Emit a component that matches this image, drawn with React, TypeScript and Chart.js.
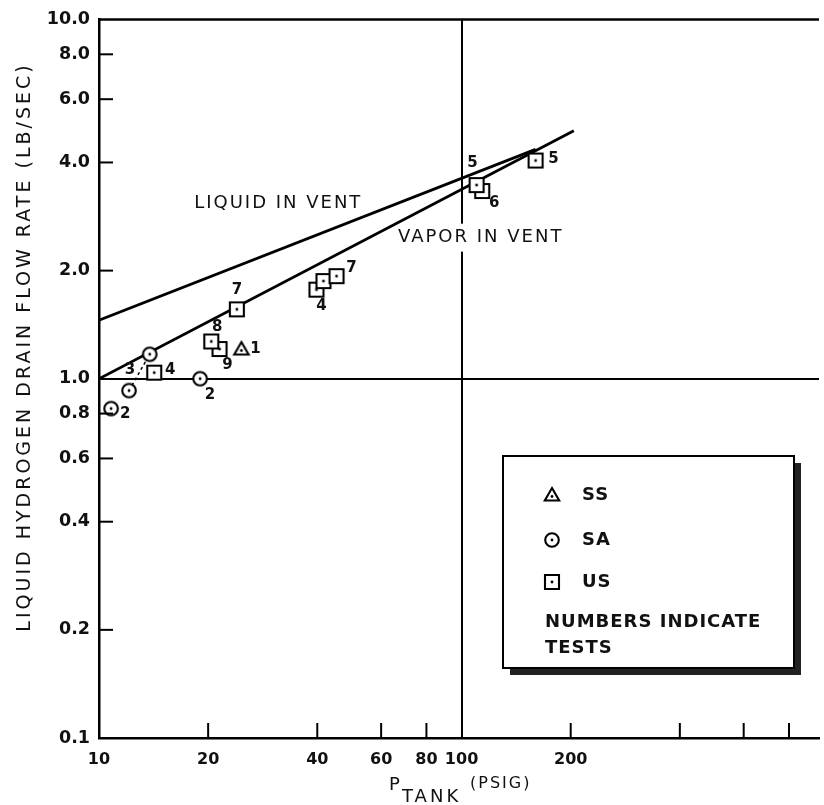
import React, { useEffect, useRef } from 'react';
import { Chart, registerables } from 'chart.js';

Chart.register(...registerables);

// ---- axis ticks ----
const xTickValues = [10, 20, 40, 60, 80, 100, 200, 400, 600, 800];
const xTickLabels = ['10', '20', '40', '60', '80', '100', '200', '', '', ''];
const yTickValues = [0.1, 0.2, 0.4, 0.6, 0.8, 1, 2, 4, 6, 8, 10];
const yTickLabels = ['0.1', '0.2', '0.4', '0.6', '0.8', '1.0', '2.0', '4.0', '6.0', '8.0', '10.0'];

// ---- data (P tank, psig ; drain flow rate, lb/sec) ----
const ssPressure = [24.7];
const ssFlow = [1.21];
const ssTests = ['1'];

const saPressure = [10.8, 12.1, 13.8, 19.0];
const saFlow = [0.826, 0.927, 1.17, 1.0];
const saTests = ['2', '3', '', '2'];

const usPressure = [14.2, 24.0, 21.5, 20.4, 39.8, 41.6, 45.2, 114, 110, 160];
const usFlow = [1.04, 1.56, 1.21, 1.27, 1.77, 1.87, 1.93, 3.33, 3.46, 4.05];
const usTests = ['4', '7', '9', '8', '4', '', '7', '6', '5', '5'];

const test3Pressure = [12.1, 13.8];
const test3Flow = [0.927, 1.17];

const liquidPressure = [10, 160];
const liquidFlow = [1.456, 4.35];
const vaporPressure = [10, 204];
const vaporFlow = [1.0, 4.9];

const seriesNames = ['SS', 'SA', 'US'];
const lineNames = ['LIQUID IN VENT', 'VAPOR IN VENT'];
const lineLabelAnchors = [
  [18.3, 3.08],
  [66.8, 2.47],
];
const noteLines = ['NUMBERS INDICATE', 'TESTS'];
const yTitle = 'LIQUID HYDROGEN DRAIN FLOW RATE (LB/SEC)';

// ---- label offsets (pixels, relative to marker centre) ----
const ssLabelOffsets: (number[] | null)[] = [[14, 0]];
const saLabelOffsets: (number[] | null)[] = [[14, 6], [1, -20], null, [10, 16]];
const usLabelOffsets: (number[] | null)[] = [
  [16, -3], [0, -19], [8, 16], [6, -14], [5, 16], null, [15, -8], [12, 12], [-4, -22], [18, -1],
];

function makeMarker(kind: string): HTMLCanvasElement {
  const c = document.createElement('canvas');
  c.width = 20;
  c.height = 20;
  const g = c.getContext('2d')!;
  g.fillStyle = '#fff';
  g.strokeStyle = '#000';
  g.lineWidth = 2.1;
  let cy = 10;
  if (kind === 'square') {
    g.beginPath();
    g.rect(3, 3, 14, 14);
    g.fill();
    g.stroke();
  } else if (kind === 'circle') {
    g.beginPath();
    g.arc(10, 10, 6.8, 0, Math.PI * 2);
    g.fill();
    g.stroke();
  } else {
    g.beginPath();
    g.moveTo(10, 3);
    g.lineTo(17.2, 15.5);
    g.lineTo(2.8, 15.5);
    g.closePath();
    g.fill();
    g.stroke();
    cy = 11.5;
  }
  g.fillStyle = '#000';
  g.beginPath();
  g.arc(10, cy, 1.4, 0, Math.PI * 2);
  g.fill();
  return c;
}

export default function App() {
  const ref = useRef<HTMLCanvasElement>(null);

  useEffect(() => {
    const canvas = ref.current!;
    const triangle = makeMarker('triangle');
    const circle = makeMarker('circle');
    const square = makeMarker('square');

    const pts = (xs: number[], ys: number[]) => xs.map((x, i) => ({ x, y: ys[i] }));

    const labelSets = [
      { index: 0, tests: ssTests, offsets: ssLabelOffsets },
      { index: 1, tests: saTests, offsets: saLabelOffsets },
      { index: 2, tests: usTests, offsets: usLabelOffsets },
    ];

    const decor = {
      id: 'decor',
      afterDatasetsDraw(chart: any) {
        const { ctx, chartArea: a, scales } = chart;
        const x = scales.x;
        const y = scales.y;
        ctx.save();
        ctx.strokeStyle = '#000';
        ctx.lineWidth = 2;
        // inward tick marks
        x.ticks.forEach((t: any) => {
          if (t.value === 10 || t.value === 100) return;
          const px = x.getPixelForValue(t.value);
          ctx.beginPath();
          ctx.moveTo(px, a.bottom);
          ctx.lineTo(px, a.bottom - 15);
          ctx.stroke();
        });
        y.ticks.forEach((t: any) => {
          if (t.value === 0.1 || t.value === 1 || t.value === 10) return;
          const py = y.getPixelForValue(t.value);
          ctx.beginPath();
          ctx.moveTo(a.left, py);
          ctx.lineTo(a.left + 14, py);
          ctx.stroke();
        });
        // top frame line
        ctx.lineWidth = 2.5;
        ctx.beginPath();
        ctx.moveTo(a.left, a.top);
        ctx.lineTo(a.right, a.top);
        ctx.stroke();

        // test number labels
        ctx.fillStyle = '#111';
        ctx.font = 'bold 15px "DejaVu Sans"';
        ctx.textAlign = 'center';
        ctx.textBaseline = 'middle';
        labelSets.forEach((set) => {
          const meta = chart.getDatasetMeta(set.index);
          set.tests.forEach((t, j) => {
            const off = set.offsets[j];
            if (!t || !off) return;
            const el = meta.data[j];
            ctx.fillText(t, el.x + off[0], el.y + off[1]);
          });
        });

        // line labels (the 100 psig grid line is interrupted by the label)
        const gx = x.getPixelForValue(100);
        ctx.font = '18px "DejaVu Sans"';
        (ctx as any).letterSpacing = '2px';
        ctx.textAlign = 'left';
        lineNames.forEach((name, i) => {
          const px = x.getPixelForValue(lineLabelAnchors[i][0]);
          const py = y.getPixelForValue(lineLabelAnchors[i][1]);
          const w = ctx.measureText(name).width;
          if (gx > px && gx < px + w) {
            ctx.fillStyle = '#fff';
            ctx.fillRect(gx - 3, py - 14, 6, 28);
          }
          ctx.fillStyle = '#111';
          ctx.fillText(name, px, py);
        });
        (ctx as any).letterSpacing = '0px';
        ctx.restore();
      },
      afterDraw(chart: any) {
        const { ctx } = chart;
        ctx.save();
        // y axis title
        ctx.fillStyle = '#111';
        ctx.font = '19px "DejaVu Sans"';
        (ctx as any).letterSpacing = '3px';
        ctx.textAlign = 'center';
        ctx.textBaseline = 'middle';
        ctx.translate(25, 347);
        ctx.rotate(-Math.PI / 2);
        ctx.fillText(yTitle, 0, 0);
        ctx.setTransform(1, 0, 0, 1, 0, 0);

        // x axis title: P_TANK (PSIG)
        ctx.textAlign = 'left';
        ctx.textBaseline = 'alphabetic';
        (ctx as any).letterSpacing = '0px';
        ctx.font = '18px "DejaVu Sans"';
        ctx.fillText('P', 389, 790);
        (ctx as any).letterSpacing = '3px';
        ctx.font = '18px "DejaVu Sans"';
        ctx.fillText('TANK', 402, 802);
        (ctx as any).letterSpacing = '2px';
        ctx.font = '16px "DejaVu Sans"';
        ctx.fillText('(PSIG)', 470, 788);

        // legend box
        const bx = 503, by = 456, bw = 291, bh = 212;
        ctx.fillStyle = '#222';
        ctx.fillRect(bx + 7, by + 7, bw, bh);
        ctx.fillStyle = '#fff';
        ctx.fillRect(bx, by, bw, bh);
        ctx.strokeStyle = '#000';
        ctx.lineWidth = 2;
        ctx.strokeRect(bx, by, bw, bh);

        const markers = [triangle, circle, square];
        const rowsY = [495, 540, 582];
        ctx.fillStyle = '#111';
        ctx.font = 'bold 18px "DejaVu Sans"';
        (ctx as any).letterSpacing = '1px';
        ctx.textBaseline = 'middle';
        seriesNames.forEach((n, i) => {
          ctx.drawImage(markers[i], 552 - 10, rowsY[i] - 10);
          ctx.fillText(n, 582, rowsY[i]);
        });
        ctx.fillText(noteLines[0], 545, 622);
        ctx.fillText(noteLines[1], 545, 648);
        (ctx as any).letterSpacing = '0px';
        ctx.restore();
      },
    };

    const chart = new Chart(canvas, {
      type: 'scatter',
      data: {
        datasets: [
          {
            label: seriesNames[0],
            data: pts(ssPressure, ssFlow),
            pointStyle: triangle,
            order: 1,
          },
          {
            label: seriesNames[1],
            data: pts(saPressure, saFlow),
            pointStyle: circle,
            order: 1,
          },
          {
            label: seriesNames[2],
            data: pts(usPressure, usFlow),
            pointStyle: square,
            order: 1,
          },
          {
            label: 'test 3',
            data: pts(test3Pressure, test3Flow),
            showLine: true,
            borderColor: '#000',
            borderWidth: 1.5,
            borderDash: [3, 3],
            pointRadius: 0,
            order: 2,
          },
          {
            label: lineNames[0],
            data: pts(liquidPressure, liquidFlow),
            showLine: true,
            borderColor: '#000',
            borderWidth: 2.8,
            pointRadius: 0,
            order: 2,
          },
          {
            label: lineNames[1],
            data: pts(vaporPressure, vaporFlow),
            showLine: true,
            borderColor: '#000',
            borderWidth: 2.8,
            pointRadius: 0,
            order: 2,
          },
        ],
      },
      options: {
        animation: false,
        responsive: false,
        devicePixelRatio: 1,
        events: [],
        layout: { padding: { top: 15, right: 0, bottom: 0, left: 0 } },
        plugins: {
          legend: { display: false },
          tooltip: { enabled: false },
          title: { display: false },
        },
        scales: {
          x: {
            type: 'logarithmic',
            min: 10,
            max: 968,
            position: 'bottom',
            afterBuildTicks: (s: any) => {
              s.ticks = xTickValues.map((v) => ({ value: v }));
            },
            afterFit: (s: any) => {
              s.height = 67;
            },
            ticks: {
              autoSkip: false,
              maxRotation: 0,
              minRotation: 0,
              padding: 12,
              color: '#111',
              font: { family: 'DejaVu Sans', weight: 'bold', size: 16 },
              callback: (v: any) => {
                const i = xTickValues.indexOf(Number(v));
                return i >= 0 ? xTickLabels[i] : '';
              },
            },
            grid: {
              drawTicks: false,
              lineWidth: 2,
              color: (c: any) => (c.tick && c.tick.value === 100 ? '#000' : 'rgba(0,0,0,0)'),
            },
            border: { display: true, color: '#000', width: 2.5 },
          },
          y: {
            type: 'logarithmic',
            min: 0.1,
            max: 10,
            afterBuildTicks: (s: any) => {
              s.ticks = yTickValues.map((v) => ({ value: v }));
            },
            afterFit: (s: any) => {
              s.width = 99;
            },
            ticks: {
              autoSkip: false,
              padding: 9,
              color: '#111',
              font: { family: 'DejaVu Sans', weight: 'bold', size: 17.5 },
              callback: (v: any) => {
                const i = yTickValues.indexOf(Number(v));
                return i >= 0 ? yTickLabels[i] : '';
              },
            },
            grid: {
              drawTicks: false,
              lineWidth: 2,
              color: (c: any) => (c.tick && c.tick.value === 1 ? '#000' : 'rgba(0,0,0,0)'),
            },
            border: { display: true, color: '#000', width: 2.5 },
          },
        },
      },
      plugins: [decor],
    } as any);

    return () => chart.destroy();
  }, []);

  return (
    <div style={{ position: 'fixed', left: 0, top: 0, width: 824, height: 805, background: '#fff' }}>
      <canvas ref={ref} width={824} height={805} style={{ display: 'block', width: 824, height: 805 }} />
    </div>
  );
}
